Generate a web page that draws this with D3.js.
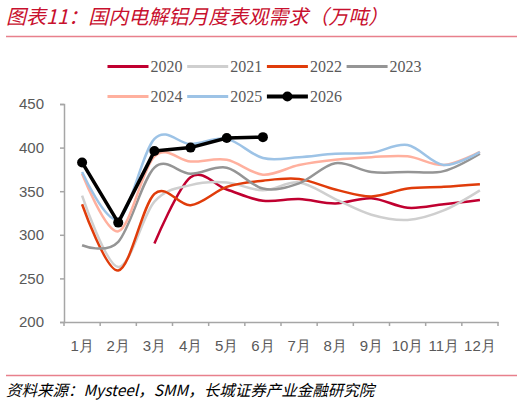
<!DOCTYPE html>
<html>
<head>
<meta charset="utf-8">
<script src="https://cdn.jsdelivr.net/npm/d3@7"></script>
<style>
  body { margin: 0; background: #fff; }
  svg { display: block; }
</style>
</head>
<body>
<div id="chart"></div>
<script>
// chart data
var months = ["1月","2月","3月","4月","5月","6月","7月","8月","9月","10月","11月","12月"]
var years = ["2020","2021","2022","2023","2024","2025","2026"]
var colors = ["#c00030","#cfcfcf","#e03c0a","#959595","#ffb09e","#9dc3e6","#000000"]
var yTicks = [200, 250, 300, 350, 400, 450]

var v2020 = [null, null, 290, 366, 352, 339, 341, 336, 342, 331, 335, 340]
var v2021 = [345, 263, 338, 357, 360, 351, 360, 341, 323, 317, 328, 351]
var v2022 = [335, 259, 347, 334, 355, 362, 364, 352, 344, 353, 355, 358]
var v2023 = [288, 292, 377, 370, 377, 353, 359, 382, 372, 372, 373, 393]
var v2024 = [370, 304, 390, 384, 386, 369, 380, 386, 389, 390, 380, 395]
var v2025 = [372, 318, 410, 404, 410, 388, 389, 393, 394, 403, 380, 395]
var v2026 = [383, 314, 396, 400, 411, 412]

var series = [v2020, v2021, v2022, v2023, v2024, v2025, v2026]

const width = 525
const height = 406

const svg = d3.select("#chart").append("svg")
  .attr("width", width)
  .attr("height", height)

// title + rules
svg.append("text")
  .attr("x", 6).attr("y", 24)
  .style("font-family", "'Noto Sans CJK SC', sans-serif")
  .style("font-style", "italic")
  .style("font-size", "20px")
  .style("fill", "#c8102e")
  .text("图表11：国内电解铝月度表观需求（万吨）")

svg.append("line")
  .attr("x1", 6).attr("x2", 517).attr("y1", 36.5).attr("y2", 36.5)
  .style("stroke", "#e8808c").style("stroke-width", 1.5)

svg.append("line")
  .attr("x1", 6).attr("x2", 517).attr("y1", 375.5).attr("y2", 375.5)
  .style("stroke", "#e8808c").style("stroke-width", 1.5)

svg.append("text")
  .attr("x", 6).attr("y", 396)
  .style("font-family", "'Noto Sans CJK SC', sans-serif")
  .style("font-style", "italic")
  .style("font-size", "15.5px")
  .style("fill", "#000")
  .text("资料来源：Mysteel，SMM，长城证券产业金融研究院")

// plot area
const plotLeft = 64, plotRight = 498, plotTop = 104, plotBottom = 322

const xScale = d3.scaleBand().domain(months).range([plotLeft, plotRight])
const yScale = d3.scaleLinear().domain([200, 450]).range([plotBottom, plotTop])

const axisColor = "#a6a6a6"
const labelColor = "#595959"

const yAxis = svg.append("g")
  .attr("transform", "translate(" + plotLeft + ",0)")
  .call(d3.axisLeft(yScale).tickValues(yTicks).tickSize(4).tickPadding(16))
yAxis.select(".domain").style("stroke", axisColor).style("stroke-width", 1.5)
yAxis.selectAll(".tick line").style("stroke", axisColor).style("stroke-width", 1.5)
yAxis.selectAll("text")
  .style("font-family", "'Liberation Sans', Arial, sans-serif")
  .style("font-size", "15px")
  .style("fill", labelColor)

const xAxis = svg.append("g")
  .attr("transform", "translate(0," + plotBottom + ")")
  .call(d3.axisBottom(xScale).tickSize(0).tickPadding(18))
xAxis.select(".domain").style("stroke", axisColor).style("stroke-width", 1.5)
xAxis.selectAll("text")
  .style("font-family", "'Liberation Sans', Arial, sans-serif")
  .style("font-size", "15px")
  .style("fill", labelColor)

// tick marks between categories
var bounds = months.map(function(m){ return xScale(m) }).concat([plotRight])
xAxis.selectAll(".bound")
  .data(bounds)
  .enter()
  .append("line")
  .attr("x1", d => d).attr("x2", d => d)
  .attr("y1", 0).attr("y2", 4)
  .style("stroke", axisColor).style("stroke-width", 1.5)

function xPos(i){ return xScale(months[i]) + xScale.bandwidth() / 2 }

// lines
series.forEach(function(vals, s){
  var pts = []
  vals.forEach(function(v, i){ if (v != null) pts.push([xPos(i), yScale(v)]) })
  var isLast = (s == series.length - 1)
  var line = d3.line()
    .curve(isLast ? d3.curveLinear : d3.curveCardinal.tension(0))
  svg.append("path")
    .attr("d", line(pts))
    .style("fill", "none")
    .style("stroke", colors[s])
    .style("stroke-width", isLast ? 3.5 : 2.5)
    .style("stroke-linejoin", "round")
  if (isLast) {
    svg.selectAll(".dot")
      .data(pts)
      .enter()
      .append("circle")
      .attr("cx", d => d[0]).attr("cy", d => d[1])
      .attr("r", 5)
      .style("fill", "#000")
  }
})

// legend
var legend = svg.append("g")
var item = legend.selectAll("g")
  .data(years)
  .enter()
  .append("g")
  .attr("transform", function(d, i){
    return "translate(" + (107.5 + (i % 4) * 79.7) + "," + (66.5 + Math.floor(i / 4) * 30) + ")"
  })

item.append("line")
  .attr("x1", 0).attr("x2", 41).attr("y1", 0).attr("y2", 0)
  .style("stroke", (d, i) => colors[i])
  .style("stroke-width", (d, i) => i == 6 ? 4 : 3)

item.filter((d, i) => i == 6).append("circle")
  .attr("cx", 20.5).attr("cy", 0).attr("r", 5)
  .style("fill", "#000")

item.append("text")
  .attr("x", 43).attr("y", 5.5)
  .style("font-family", "'Liberation Serif', 'Times New Roman', serif")
  .style("font-size", "16px")
  .style("fill", labelColor)
  .text(d => d)
</script>
</body>
</html>
